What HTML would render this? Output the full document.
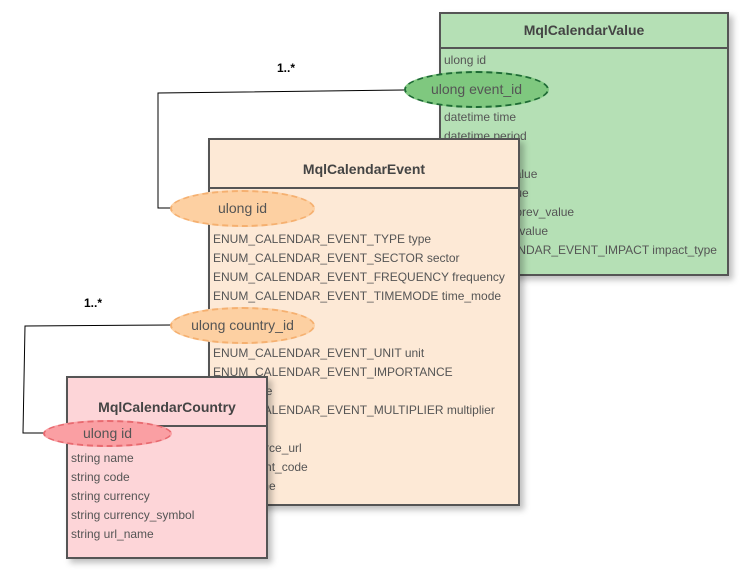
<!DOCTYPE html>
<html><head><style>
body{margin:0;width:750px;height:574px;background:#fff;position:relative;overflow:hidden;font-family:"Liberation Sans",sans-serif;color:#555}
.box{position:absolute;border:2px solid #555;box-sizing:border-box;box-shadow:4px 4px 6px rgba(0,0,0,0.25)}
.hd{position:absolute;left:0;right:0;border-bottom:2px solid #555;font-weight:bold;font-size:14px;text-align:center;color:#444}
.r{position:absolute;font-size:12px;white-space:nowrap;color:#555}
.el{position:absolute;border:2px dashed;border-radius:50%;box-sizing:border-box;font-size:14px;text-align:center;color:#555}
.lbl{position:absolute;font-weight:bold;font-size:12px;color:#000}
</style></head><body>
<svg style="position:absolute;left:0;top:0" width="750" height="574">
<polyline points="404,90 158,93 158,208 172,208" fill="none" stroke="#000" stroke-width="1"/>
<polyline points="172,325 25,326 23,433 45,433" fill="none" stroke="#000" stroke-width="1"/>
</svg>
<div class="lbl" style="left:277px;top:61px">1..*</div>
<div class="lbl" style="left:84px;top:296px">1..*</div>

<div class="box" style="left:439px;top:12px;width:290px;height:264px;background:#b5e0b5">
<div class="hd" style="top:0;height:33px;line-height:33px">MqlCalendarValue</div>
<div class="r" style="left:3px;top:39px">ulong id</div>
<div class="r" style="left:3px;top:96px">datetime time</div>
<div class="r" style="left:3px;top:115px">datetime period</div>
<div class="r" style="left:3px;top:134px">int revision</div>
<div class="r" style="left:3px;top:153px">long actual_value</div>
<div class="r" style="left:3px;top:172px">long prev_value</div>
<div class="r" style="left:3px;top:191px">long revised_prev_value</div>
<div class="r" style="left:3px;top:210px">long forecast_value</div>
<div class="r" style="left:3px;top:229px">ENUM_CALENDAR_EVENT_IMPACT impact_type</div>
</div>
<div class="el" style="left:404px;top:71px;width:145px;height:37px;line-height:33px;background:#7fc87f;border-color:#1e6b35">ulong event_id</div>

<div class="box" style="left:208px;top:138px;width:312px;height:368px;background:#fde9d6">
<div class="hd" style="top:0;height:47px;line-height:58px">MqlCalendarEvent</div>
<div class="r" style="left:3px;top:92px">ENUM_CALENDAR_EVENT_TYPE type</div>
<div class="r" style="left:3px;top:111px">ENUM_CALENDAR_EVENT_SECTOR sector</div>
<div class="r" style="left:3px;top:130px">ENUM_CALENDAR_EVENT_FREQUENCY frequency</div>
<div class="r" style="left:3px;top:149px">ENUM_CALENDAR_EVENT_TIMEMODE time_mode</div>
<div class="r" style="left:3px;top:206px">ENUM_CALENDAR_EVENT_UNIT unit</div>
<div class="r" style="left:3px;top:225px">ENUM_CALENDAR_EVENT_IMPORTANCE</div>
<div class="r" style="left:3px;top:244px">importance</div>
<div class="r" style="left:3px;top:263px">ENUM_CALENDAR_EVENT_MULTIPLIER multiplier</div>
<div class="r" style="left:3px;top:282px">uint digits</div>
<div class="r" style="left:3px;top:301px">string source_url</div>
<div class="r" style="left:3px;top:320px">string event_code</div>
<div class="r" style="left:3px;top:339px">string name</div>
</div>
<div class="el" style="left:170px;top:190px;width:145px;height:37px;line-height:33px;background:#fdd0a2;border-color:#f5b070">ulong id</div>
<div class="el" style="left:170px;top:307px;width:145px;height:37px;line-height:33px;background:#fdd0a2;border-color:#f5b070">ulong country_id</div>

<div class="box" style="left:66px;top:376px;width:202px;height:183px;background:#fdd5d8">
<div class="hd" style="top:0;height:47px;line-height:58px">MqlCalendarCountry</div>
<div class="r" style="left:3px;top:73px">string name</div>
<div class="r" style="left:3px;top:92px">string code</div>
<div class="r" style="left:3px;top:111px">string currency</div>
<div class="r" style="left:3px;top:130px">string currency_symbol</div>
<div class="r" style="left:3px;top:149px">string url_name</div>
</div>
<div class="el" style="left:43px;top:420px;width:129px;height:27px;line-height:23px;background:#fa9fa3;border-color:#e86a70">ulong id</div>
</body></html>
